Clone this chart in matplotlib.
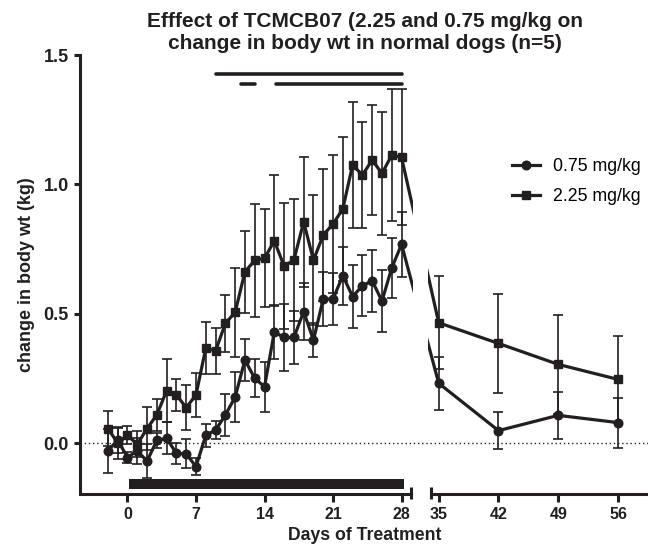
import matplotlib
matplotlib.use("Agg")
import matplotlib.pyplot as plt
from matplotlib.transforms import blended_transform_factory

plt.rcParams["font.family"] = ["Liberation Sans", "DejaVu Sans"]

INK = "#231f20"

# measurement days (two panels of the broken axis)
days_dosing = list(range(-2, 29))
days_washout = [35, 42, 49, 56]

# 0.75 mg/kg: mean and SEM
low_dosing = [-0.031, 0.012, -0.056, -0.03, -0.07, 0.01, 0.018, -0.04, -0.042, -0.091,
              0.03, 0.05, 0.108, 0.178, 0.321, 0.25, 0.218, 0.429, 0.408, 0.408,
              0.508, 0.398, 0.557, 0.557, 0.647, 0.566, 0.608, 0.627, 0.549, 0.677, 0.768]
low_dosing_sem = [0.084, 0.05, 0.02, 0.05, 0.065, 0.03, 0.062, 0.042, 0.056, 0.032,
                  0.045, 0.035, 0.082, 0.097, 0.08, 0.073, 0.097, 0.104, 0.128, 0.104,
                  0.11, 0.067, 0.105, 0.1, 0.112, 0.122, 0.117, 0.12, 0.118, 0.115, 0.127]
low_washout = [0.231, 0.048, 0.107, 0.079]
low_washout_sem = [0.103, 0.072, 0.092, 0.097]

# 2.25 mg/kg: mean and SEM
high_dosing = [0.056, 0.0, 0.03, -0.005, 0.056, 0.109, 0.202, 0.186, 0.137, 0.186,
               0.367, 0.356, 0.463, 0.505, 0.662, 0.706, 0.714, 0.782, 0.684, 0.707,
               0.855, 0.707, 0.804, 0.847, 0.905, 1.075, 1.036, 1.094, 1.042, 1.113, 1.104]
high_dosing_sem = [0.068, 0.06, 0.035, 0.05, 0.082, 0.062, 0.122, 0.062, 0.088, 0.085,
                   0.102, 0.09, 0.11, 0.172, 0.158, 0.218, 0.19, 0.253, 0.244, 0.235,
                   0.25, 0.25, 0.255, 0.266, 0.277, 0.244, 0.205, 0.213, 0.237, 0.255, 0.263]
high_washout = [0.465, 0.385, 0.304, 0.246]
high_washout_sem = [0.18, 0.19, 0.19, 0.169]

# significance bars (start day, end day, level)
sig_bars = [(9, 28, 1.425), (11.6, 13.0, 1.388), (15.2, 28.0, 1.388)]
# treatment period bar
treat_start, treat_end = 0.15, 28.25
treat_low, treat_high = -0.178, -0.139

W, H = 648, 545
fig = plt.figure(figsize=(W / 100, H / 100), dpi=100)


def px_axes(x0, x1, y_top, y_bot):
    return fig.add_axes([x0 / W, 1 - y_bot / H, (x1 - x0) / W, (y_bot - y_top) / H])


ax1 = px_axes(80, 413.2, 55, 494)
ax2 = px_axes(428.3, 648, 55, 494)
ax1.set_xlim(-4.85, 29.19)
ax2.set_xlim(33.78, 59.51)
for ax in (ax1, ax2):
    ax.set_ylim(-0.197, 1.5)
    ax.patch.set_alpha(0)
    ax.spines[["top", "right"]].set_visible(False)
    ax.spines["bottom"].set_linewidth(2.2)
    ax.spines["bottom"].set_color(INK)
    ax.tick_params(axis="x", direction="out", length=5.5, width=2.2, color=INK, pad=4,
                   labelsize=11.5, labelcolor=INK)

ax1.spines["bottom"].set_bounds(-4.85, 28.95)
ax2.spines["bottom"].set_bounds(34.05, 59.51)
ax1.spines["left"].set_linewidth(2.2)
ax1.spines["left"].set_color(INK)
ax2.spines["left"].set_visible(False)
ax2.tick_params(axis="y", left=False, labelleft=False)

ax1.set_xticks([0, 7, 14, 21, 28])
ax2.set_xticks(days_washout)
ax1.set_yticks([0, 0.5, 1.0, 1.5])
ax1.set_yticklabels(["0.0", "0.5", "1.0", "1.5"])
ax1.tick_params(axis="y", direction="out", length=4, width=2.2, color=INK, pad=4,
                labelsize=13, labelcolor=INK)
for ax in (ax1, ax2):
    for lab in ax.get_xticklabels() + ax.get_yticklabels():
        lab.set_fontweight("bold")

# break marks at the ends of the two x-axis pieces
for ax, x in ((ax1, 28.95), (ax2, 34.05)):
    tr = blended_transform_factory(ax.transData, ax.transAxes)
    ax.plot([x, x], [-0.012, 0.017], transform=tr, color=INK, lw=2.2, clip_on=False,
            solid_capstyle="butt")

# dotted zero line running across both pieces
zero_tr = blended_transform_factory(fig.transFigure, ax1.transData)
fig.add_artist(plt.Line2D([80 / W, 1], [0, 0], transform=zero_tr, color=INK, lw=1,
                          linestyle=(0, (1, 2))))

line_kw = dict(color=INK, lw=2.3, elinewidth=1.2, capsize=3.6, capthick=1.2, ms=6.2)
h_low = ax1.errorbar(days_dosing, low_dosing, yerr=low_dosing_sem, marker="o", **line_kw)
h_high = ax1.errorbar(days_dosing, high_dosing, yerr=high_dosing_sem, marker="s", **line_kw)
ax2.errorbar(days_washout, low_washout, yerr=low_washout_sem, marker="o", **line_kw)
ax2.errorbar(days_washout, high_washout, yerr=high_washout_sem, marker="s", **line_kw)

# segments bridging the axis break (straight in screen space)
inv1 = ax1.transData.inverted()
inv2 = ax2.transData.inverted()
for before, after in ((low_dosing[-1], low_washout[0]), (high_dosing[-1], high_washout[0])):
    p_before = ax1.transData.transform((days_dosing[-1], before))
    p_after = ax2.transData.transform((days_washout[0], after))
    ax1.plot([days_dosing[-1], inv1.transform(p_after)[0]], [before, after], color=INK, lw=2.3)
    ax2.plot([inv2.transform(p_before)[0], days_washout[0]], [before, after], color=INK, lw=2.3)

for x0, x1, level in sig_bars:
    ax1.plot([x0, x1], [level, level], color=INK, lw=2.6, solid_capstyle="round", clip_on=False)

ax1.fill_between([treat_start, treat_end], treat_low, treat_high, color=INK, lw=0)

ax1.set_ylabel("change in body wt (kg)", fontsize=13, fontweight="bold", color=INK, labelpad=6)
fig.text(365 / W, 1 - 536 / H, "Days of Treatment", ha="center", va="center",
         fontsize=12.7, fontweight="bold", color=INK)
fig.text(365 / W, 1 - 12 / H,
         "Efffect of TCMCB07 (2.25 and 0.75 mg/kg on\nchange in body wt in normal dogs (n=5)",
         ha="center", va="top", fontsize=15, fontweight="bold", color=INK, linespacing=1.2)

# legend shows just line + marker, no error bars
fig.legend([h_low[0], h_high[0]], ["0.75 mg/kg", "2.25 mg/kg"], loc="upper left",
           bbox_to_anchor=(512 / W, 1 - 158 / H), frameon=False, fontsize=12.8,
           borderpad=0, borderaxespad=0, handlelength=1.6, handletextpad=0.7,
           labelspacing=0.75)

fig.savefig("out.png", dpi=100)
